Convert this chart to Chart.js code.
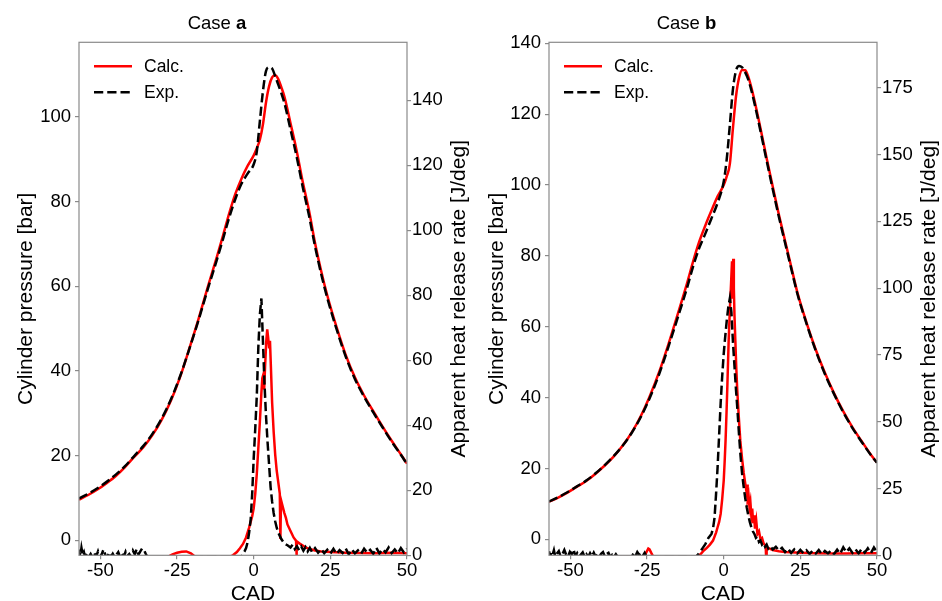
<!DOCTYPE html>
<html>
<head>
<meta charset="utf-8">
<title>Cylinder pressure and heat release rate</title>
<script src="https://cdn.jsdelivr.net/npm/chart.js@4.4.1/dist/chart.umd.min.js"></script>
<style>
  html, body { margin:0; padding:0; background:#fff; }
  #wrap { display:flex; width:942px; height:601px; }
  canvas { display:block; }
</style>
</head>
<body>
<div id="wrap">
  <canvas id="chartA" width="471" height="601"></canvas>
  <canvas id="chartB" width="471" height="601"></canvas>
</div>
<script>
// Cylinder pressure + apparent heat release rate, two cases

// ---- data ----
const xTicks = [-50, -25, 0, 25, 50];
const pTicksA = [0, 20, 40, 60, 80, 100];
const hTicksA = [0, 20, 40, 60, 80, 100, 120, 140];
const pTicksB = [0, 20, 40, 60, 80, 100, 120, 140];
const hTicksB = [0, 25, 50, 75, 100, 125, 150, 175];

// pressure crank angles (shared)
const cadP = [-57, -54, -51, -48, -45, -42, -39, -36, -33, -30,
  -27, -24, -21, -18, -15, -12, -10, -8, -6, -4,
  -2, 0, 1, 2, 3, 4, 5, 6, 7, 8,
  9, 10, 12, 14, 16, 18, 20, 22, 24, 27,
  30, 33, 36, 39, 42, 45, 48, 50];

const pCalcA = [9.6, 10.7, 12.0, 13.5, 15.2, 17.3, 19.7, 22.0, 24.9, 28.5,
  33.0, 38.6, 45.3, 52.3, 59.8, 67.0, 72.0, 77.2, 81.8, 85.4,
  88.4, 90.9, 92.6, 94.6, 98.2, 103.4, 107.2, 109.3, 109.8, 108.9,
  107.0, 104.8, 98.5, 92.0, 84.6, 78.0, 70.2, 63.6, 57.8, 50.4,
  43.8, 38.5, 34.2, 30.5, 26.9, 23.5, 20.3, 18.1];
const pExpA = [9.9, 11.0, 12.3, 13.8, 15.5, 17.5, 19.9, 22.3, 25.2, 28.8,
  33.3, 38.8, 45.2, 52.0, 59.3, 66.3, 71.2, 76.2, 80.6, 84.2,
  86.6, 88.8, 91.8, 99.0, 106.0, 110.8, 111.7, 111.4, 109.6, 107.6,
  105.6, 103.3, 97.0, 90.6, 83.4, 76.8, 69.4, 62.9, 57.2, 49.9,
  43.4, 38.1, 33.9, 30.2, 26.7, 23.3, 20.2, 18.0];
const pCalcB = [10.6, 11.8, 13.2, 14.8, 16.4, 18.4, 20.7, 23.3, 26.4, 30.2,
  34.9, 40.7, 47.4, 55.2, 63.6, 72.2, 78.4, 84.0, 88.6, 92.8,
  96.8, 100.0, 102.5, 106.0, 116.0, 125.0, 130.3, 132.5, 132.4, 130.6,
  127.6, 124.0, 116.0, 107.6, 99.5, 91.6, 84.3, 77.0, 69.8, 61.2,
  53.6, 47.0, 41.2, 36.1, 31.6, 27.7, 23.9, 21.7];
const pExpB = [10.7, 11.9, 13.3, 14.9, 16.5, 18.5, 20.8, 23.4, 26.4, 30.1,
  34.6, 40.2, 46.8, 54.5, 62.6, 70.9, 77.0, 82.2, 86.3, 90.6,
  95.0, 101.0, 107.5, 117.0, 127.0, 132.3, 133.6, 133.2, 131.8, 129.8,
  126.8, 123.2, 115.2, 106.9, 98.8, 91.0, 83.7, 76.5, 69.4, 60.9,
  53.3, 46.7, 41.0, 35.9, 31.4, 27.5, 23.8, 21.6];

// heat release: calc
const cadHCalcA = [-57, -28, -26.5, -25, -23.5, -22, -20.5, -19, -8, -6.8,
  -5.5, -4.5, -3.5, -2.5, -1.5, -0.5, 0, 0.5, 1, 1.5,
  2, 2.5, 2.8, 3.1, 3.4, 3.7, 4.1, 4.4, 4.7, 5,
  5.3, 5.6, 6, 6.5, 7, 7.5, 8, 8.5, 8.7, 8.9,
  9.3, 10, 10.5, 11, 12, 13, 13.8, 13.9, 14.1, 15,
  16, 17, 18, 20, 22, 25, 30, 35, 40, 45, 50];
const hCalcA = [-0.5, -0.5, 0.3, 0.8, 1.1, 1.2, 0.6, -0.5, -0.5, 0,
  1.0, 2.2, 3.5, 5.5, 8.5, 12, 14.5, 19, 25, 33,
  41, 50, 54.5, 55.5, 51, 58, 66, 69.5, 67, 64,
  66, 58, 47, 38, 31, 26, 22.5, 19, 5, 17,
  15.5, 13, 11.5, 9.5, 7.5, 5.5, 4.5, 0, 4.3, 3.6,
  3.0, 2.4, 2.0, 1.5, 1.2, 1.0, 0.8, 0.7, 0.6, 0.8, 0.6];

const cadHCalcB = [-57, -26, -25.3, -24.6, -24.2, -23.6, -23, -9, -7.5, -6.5,
  -5.5, -4.5, -3.5, -2.5, -2, -1.5, -1, -0.5, 0, 0.3,
  0.6, 0.9, 1.2, 1.6, 2.0, 2.4, 2.7, 2.9, 3.1, 3.3,
  3.5, 3.8, 4.1, 4.4, 4.9, 5.4, 6, 6.5, 7, 7.4,
  7.6, 7.8, 8.1, 8.4, 8.7, 9, 9.3, 9.6, 9.9, 10.2,
  10.6, 11, 11.5, 12, 12.5, 13, 13.7, 13.8, 14, 15,
  16, 18, 20, 25, 30, 35, 40, 45, 50];
const hCalcB = [-0.5, -0.5, 1.0, 2.5, 2.2, 0.8, -0.5, -0.5, 0.5, 1.8,
  2.8, 4.0, 5.5, 8.5, 10.5, 12.5, 15.5, 21, 28, 35,
  43, 53, 64, 80, 92, 102, 110, 96, 111, 100,
  90, 80, 70, 62, 52, 43, 36, 31, 27, 24,
  26.5, 21, 22.5, 18, 20, 15, 17.5, 12, 15, 10,
  13, 8, 9, 6, 6.5, 4.5, 3.5, 0, 3, 2.5,
  2, 1.5, 1.2, 1.0, 0.8, 0.7, 0.7, 0.8, 0.8];

// heat release: exp (noisy baseline + main peak + tail)
const noiseCad = [-57, -56.6, -56.2, -55.8, -55.4, -55, -54.4, -53.8, -53.2, -52.6,
  -52, -51.4, -50.8, -50.2, -49.6, -49, -48.4, -47.8, -47.2, -46.6,
  -46, -45.4, -44.8, -44.2, -43.6, -43, -42.4, -41.8, -41.2, -40.6,
  -40, -39.4, -38.8, -38.2, -37.6, -37, -36.4, -35.8, -35.2, -34.6];
const tailCad = [19, 20, 21, 22, 23, 24, 25, 26, 27, 28, 29, 30, 31, 32, 33, 34,
  35, 36, 37, 38, 39, 40, 41, 42, 43, 44, 45, 46, 47, 48, 49, 50];

const noiseExpA = [1.8, -0.5, 2.3, 0.2, 1.0, -0.6, 0.8, -0.5, 0.4, -0.6,
  0.6, -0.4, 1.2, -0.5, 0.3, 1.8, 0.1, -0.6, 0.9, -0.4,
  0.5, -0.6, 0.2, 1.0, -0.5, 0.7, -0.5, 1.1, -0.2, 0.4,
  -0.6, 1.4, 0.3, 1.9, 0.2, 1.2, 2.1, 1.6, 0.4, -0.6];
const peakCadExpA = [-4, -3.5, -3, -2.5, -2, -1.5, -1, -0.5, 0, 0.5,
  1, 1.5, 2, 2.5, 3, 3.5, 4, 4.5, 5, 5.5,
  6, 6.5, 7, 7.5, 8, 9, 10, 11, 12, 12.7,
  13.4, 14.1, 14.8, 15.5, 16.2, 16.9, 17.6, 18.3];
const peakExpA = [-0.3, 0.5, 1.2, 2.2, 4, 7, 11, 19, 30, 39,
  49, 64, 74, 79, 66, 53, 43, 35, 28, 21,
  16.5, 13, 10.5, 8.5, 7, 5, 3.6, 3.1, 2.4, 3.3,
  1.9, 2.8, 1.6, 2.7, 1.4, 2.5, 1.2, 2.3];
const tailExpA = [1.0, 2.2, 0.8, 1.9, 0.6, 1.7, 0.5, 2.0, 0.4, 1.6, 0.7, 2.1, 0.3, 1.8, 0.6, 1.5,
  0.4, 2.0, 0.8, 1.7, 0.5, 2.3, 0.6, 1.9, 0.9, 2.4, 0.7, 1.8, 0.6, 2.2, 0.9, 2.0];

const noiseExpB = [1.5, -0.5, 1.2, 0.3, 1.9, -0.4, 0.7, 1.6, -0.5, 0.5,
  2.0, 0.2, -0.5, 1.3, 0.4, 2.2, -0.3, 0.8, -0.6, 0.3,
  1.1, -0.5, 0.4, -0.6, 0.8, -0.4, 1.0, -0.5, 0.3, -0.6,
  0.6, 1.2, -0.4, 0.5, 0.9, -0.6, 0.2, -0.5, 0.4, -0.6];
const peakCadExpB = [-30, -29.4, -28.8, -28.2, -27.6, -27, -26.4, -25.8, -25.2, -24.6,
  -9, -8, -7, -6, -5, -4, -3.5, -3, -2.5, -2,
  -1.5, -1, -0.5, 0, 0.5, 1, 1.5, 2, 2.5, 3,
  3.5, 4, 4.5, 5, 5.5, 6, 6.5, 7, 7.5, 8,
  8.5, 9, 9.5, 10, 10.5, 11, 11.5, 12, 12.5, 13,
  13.5, 14, 14.5, 15, 16, 17, 18];
const peakExpB = [-0.6, 0.8, -0.3, 1.2, 0.2, 1.0, -0.2, 0.9, -0.5, -0.6,
  -0.5, 0.8, 2.5, 4.2, 6.5, 8, 10, 14, 23, 33,
  45, 57, 67, 75.5, 82, 88, 93, 96.2, 91, 80,
  71, 62, 54, 45, 37, 30.5, 25.7, 21.5, 18, 15,
  12.5, 10.5, 9, 8, 6.5, 7, 5, 5.5, 4, 4.6,
  3.2, 4.0, 2.6, 3.5, 2.2, 3.2, 1.8];
const tailExpB = [2.8, 1.2, 2.5, 0.9, 2.2, 0.7, 2.0, 0.8, 1.9, 0.5, 1.7, 0.6, 2.0, 0.4, 1.6, 0.7,
  1.8, 0.5, 2.1, 0.6, 3.0, 1.2, 2.6, 0.9, 2.2, 0.7, 2.4, 1.0, 2.6, 0.8, 2.9, 1.1];

// ---- helpers ----
const FONT = "'Liberation Sans', Arial, Helvetica, sans-serif";
const GREY = '#8a8a8a';
const pts = (xs, ys) => xs.map((x, i) => ({ x, y: ys[i] }));

Chart.defaults.font.family = FONT;
Chart.defaults.color = '#000';

// frame, title, legend and axis titles drawn by hand (matplotlib look)
const decor = {
  id: 'decor',
  afterDatasetsDraw(chart, args, opts) {
    const { ctx, chartArea: a } = chart;
    ctx.save();
    ctx.strokeStyle = GREY;
    ctx.lineWidth = 1.2;
    ctx.strokeRect(a.left, a.top, a.right - a.left, a.bottom - a.top);

    // title: "Case " + bold letter
    ctx.fillStyle = '#000';
    ctx.textBaseline = 'alphabetic';
    ctx.textAlign = 'left';
    const normal = `18.5px ${FONT}`, bold = `bold 18.5px ${FONT}`;
    ctx.font = normal;
    const w1 = ctx.measureText('Case ').width;
    ctx.font = bold;
    const w2 = ctx.measureText(opts.letter).width;
    let tx = a.left + opts.titleDx - (w1 + w2) / 2;
    ctx.font = normal;
    ctx.fillText('Case ', tx, 28.5);
    ctx.font = bold;
    ctx.fillText(opts.letter, tx + w1, 28.5);

    // legend
    const items = [
      { ds: chart.data.datasets.find(d => d.label === 'Calc.'), y: a.top + 24 },
      { ds: chart.data.datasets.find(d => d.label === 'Exp.'), y: a.top + 50 }
    ];
    ctx.font = `17.5px ${FONT}`;
    ctx.textBaseline = 'middle';
    for (const it of items) {
      ctx.beginPath();
      ctx.strokeStyle = it.ds.borderColor;
      ctx.lineWidth = it.ds.borderWidth;
      ctx.setLineDash(it.ds.borderDash || []);
      ctx.moveTo(a.left + 15, it.y);
      ctx.lineTo(a.left + 53, it.y);
      ctx.stroke();
      ctx.setLineDash([]);
      ctx.fillStyle = '#000';
      ctx.fillText(it.ds.label, a.left + 65, it.y + 1);
    }

    // axis titles
    const cy = (a.top + a.bottom) / 2;
    ctx.font = `21px ${FONT}`;
    ctx.textAlign = 'center';
    ctx.textBaseline = 'middle';
    ctx.save();
    ctx.translate(26, cy);
    ctx.rotate(-Math.PI / 2);
    ctx.fillText('Cylinder pressure [bar]', 0, 0);
    ctx.restore();
    ctx.save();
    ctx.translate(a.right + 52, cy);
    ctx.rotate(-Math.PI / 2);
    ctx.fillText('Apparent heat release rate [J/deg]', 0, 0);
    ctx.restore();
    ctx.textBaseline = 'alphabetic';
    ctx.fillText('CAD', a.left + 174, 600);
    ctx.restore();
  }
};

function makeChart(id, cfg) {
  const lineStyle = (color, dash) => ({
    borderColor: color, backgroundColor: color, borderWidth: 2.5,
    borderDash: dash, pointRadius: 0, fill: false, clip: 0
  });
  const datasets = [
    { label: 'Exp.', data: pts(cadP, cfg.pExp), yAxisID: 'y', order: 0,
      cubicInterpolationMode: 'monotone', ...lineStyle('#000', [9.25, 4]) },
    { label: 'Exp. HRR', data: pts(cfg.hExpCad, cfg.hExp), yAxisID: 'y1', order: 1,
      tension: 0, ...lineStyle('#000', [9.25, 4]) },
    { label: 'Calc.', data: pts(cadP, cfg.pCalc), yAxisID: 'y', order: 2,
      cubicInterpolationMode: 'monotone', ...lineStyle('#ff0000', []) },
    { label: 'Calc. HRR', data: pts(cfg.hCalcCad, cfg.hCalc), yAxisID: 'y1', order: 3,
      tension: 0, ...lineStyle('#ff0000', []) }
  ];
  const tickFont = { size: 18.5 };
  const grid = { display: true, drawOnChartArea: false, drawTicks: true, tickLength: 4, color: GREY, lineWidth: 1.2 };
  return new Chart(document.getElementById(id), {
    type: 'line',
    data: { datasets },
    options: {
      responsive: false,
      animation: false,
      events: [],
      layout: { padding: { top: 42.3, left: 0, right: 0, bottom: 0 } },
      plugins: {
        legend: { display: false },
        title: { display: false },
        tooltip: { enabled: false },
        decor: { letter: cfg.letter, titleDx: cfg.titleDx }
      },
      scales: {
        x: {
          type: 'linear', min: -57, max: 50,
          afterBuildTicks: s => { s.ticks = xTicks.map(v => ({ value: v })); },
          afterFit: s => { s.height = 45.7; },
          ticks: { font: tickFont, color: '#000', padding: 1, maxRotation: 0, autoSkip: false },
          grid, border: { display: false }
        },
        y: {
          type: 'linear', position: 'left', min: cfg.pMin, max: cfg.pMax,
          afterBuildTicks: s => { s.ticks = cfg.pTicks.map(v => ({ value: v })); },
          afterFit: s => { s.width = cfg.leftW; },
          ticks: { font: tickFont, color: '#000', padding: 4, autoSkip: false },
          grid, border: { display: false }
        },
        y1: {
          type: 'linear', position: 'right', min: 0, max: cfg.hMax,
          afterBuildTicks: s => { s.ticks = cfg.hTicks.map(v => ({ value: v })); },
          afterFit: s => { s.width = cfg.rightW; },
          ticks: { font: tickFont, color: '#000', padding: 1, autoSkip: false },
          grid, border: { display: false }
        }
      }
    },
    plugins: [decor]
  });
}

makeChart('chartA', {
  letter: 'a', titleDx: 138, leftW: 79, rightW: 64,
  pMin: -3.54, pMax: 117.6, hMax: 157.8, pTicks: pTicksA, hTicks: hTicksA,
  pCalc: pCalcA, pExp: pExpA,
  hCalcCad: cadHCalcA, hCalc: hCalcA,
  hExpCad: noiseCad.concat(peakCadExpA, tailCad), hExp: noiseExpA.concat(peakExpA, tailExpA)
});

makeChart('chartB', {
  letter: 'b', titleDx: 137.5, leftW: 78, rightW: 65,
  pMin: -4.5, pMax: 140.3, hMax: 192, pTicks: pTicksB, hTicks: hTicksB,
  pCalc: pCalcB, pExp: pExpB,
  hCalcCad: cadHCalcB, hCalc: hCalcB,
  hExpCad: noiseCad.concat(peakCadExpB, tailCad), hExp: noiseExpB.concat(peakExpB, tailExpB)
});
</script>
</body>
</html>
